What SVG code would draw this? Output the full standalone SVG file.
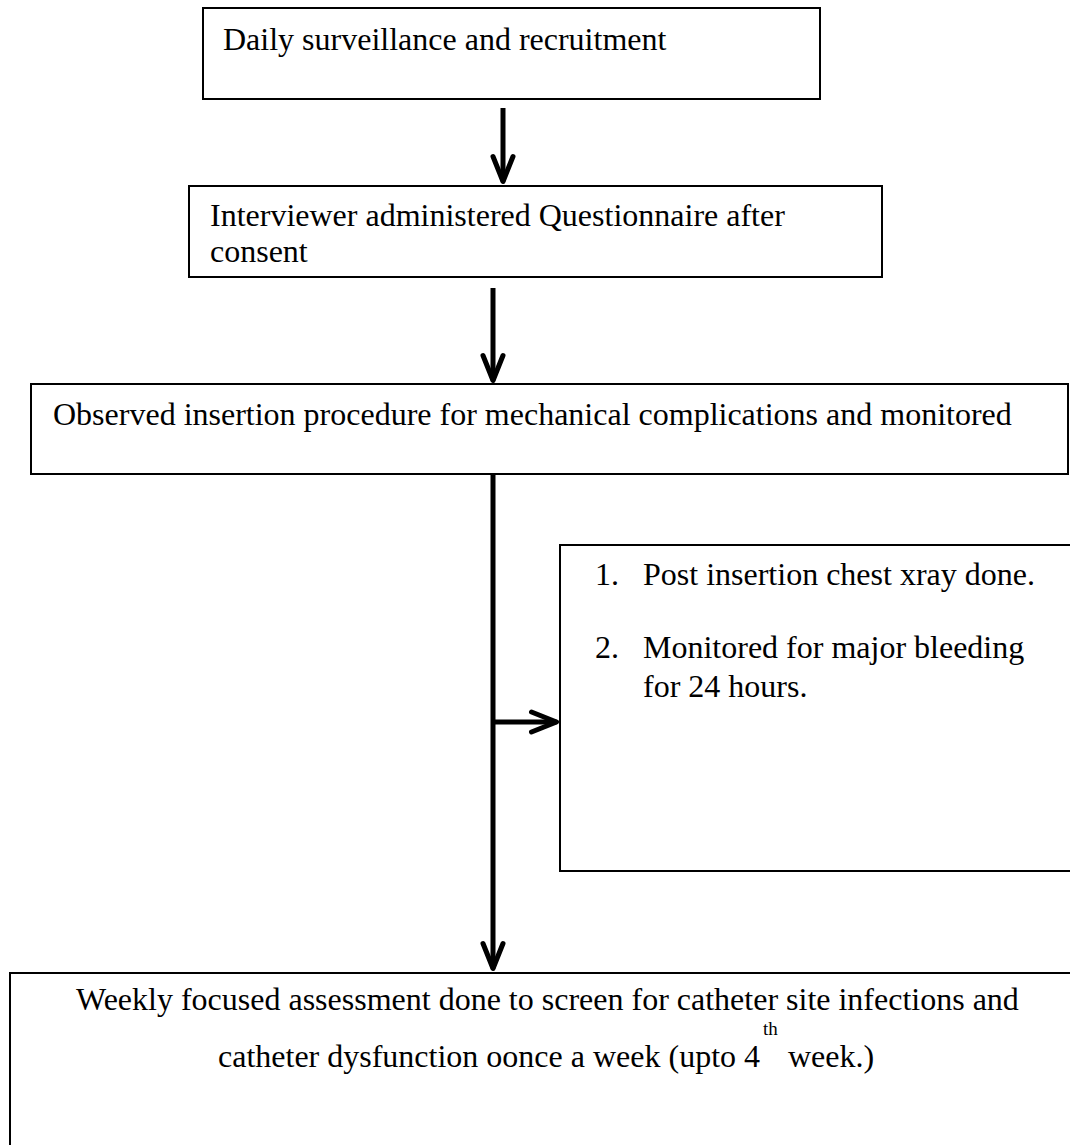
<svg xmlns="http://www.w3.org/2000/svg" width="1070" height="1145" viewBox="0 0 1070 1145">
<style>
.box{fill:#fff;stroke:#000;stroke-width:2}
.t{font-family:"Liberation Serif","Times New Roman",serif;font-size:32px;fill:#000}
.sup{font-family:"Liberation Serif","Times New Roman",serif;font-size:19px;fill:#000}
.conn{stroke:#000;stroke-width:5;fill:none}
</style>
<defs>
<marker id="arrow" markerUnits="userSpaceOnUse" markerWidth="32" markerHeight="32" refX="27" refY="15" orient="auto" overflow="visible">
<path d="M2,5 L27,15 L2,25" fill="none" stroke="#000" stroke-width="5" stroke-linecap="round" stroke-linejoin="round"/>
</marker>
</defs>
<rect width="1070" height="1145" fill="#fff"/>
<g id="node-surveillance">
<rect class="box" x="203" y="8" width="617" height="91"/>
<text class="t" x="223" y="50">Daily surveillance and recruitment</text>
</g>
<g id="node-questionnaire">
<rect class="box" x="189" y="186" width="693" height="91"/>
<text class="t" x="210" y="226">Interviewer administered Questionnaire after</text>
<text class="t" x="210" y="262">consent</text>
</g>
<g id="node-insertion">
<rect class="box" x="31" y="384" width="1037" height="90"/>
<text class="t" x="53" y="425">Observed insertion procedure for mechanical complications and monitored</text>
</g>
<g id="node-monitoring">
<rect class="box" x="560" y="545" width="520" height="326"/>
<text class="t" x="595" y="585">1.</text>
<text class="t" x="643" y="585">Post insertion chest xray done.</text>
<text class="t" x="595" y="658">2.</text>
<text class="t" x="643" y="658">Monitored for major bleeding</text>
<text class="t" x="643" y="697">for 24 hours.</text>
</g>
<g id="node-weekly">
<rect class="box" x="10" y="973" width="1080" height="200"/>
<text class="t" x="76" y="1010">Weekly focused assessment done to screen for catheter site infections and</text>
<text class="t" x="218" y="1067">catheter dysfunction oonce a week (upto 4</text>
<text class="sup" x="763" y="1035">th</text>
<text class="t" x="788" y="1067">week.)</text>
</g>
<g id="connectors">
<line class="conn" x1="503" y1="108" x2="503" y2="181.5" marker-end="url(#arrow)"/>
<line class="conn" x1="493" y1="288" x2="493" y2="380.5" marker-end="url(#arrow)"/>
<line class="conn" x1="493" y1="474" x2="493" y2="968.5" marker-end="url(#arrow)"/>
<line class="conn" x1="493" y1="722" x2="556.5" y2="722" marker-end="url(#arrow)"/>
</g>
</svg>
